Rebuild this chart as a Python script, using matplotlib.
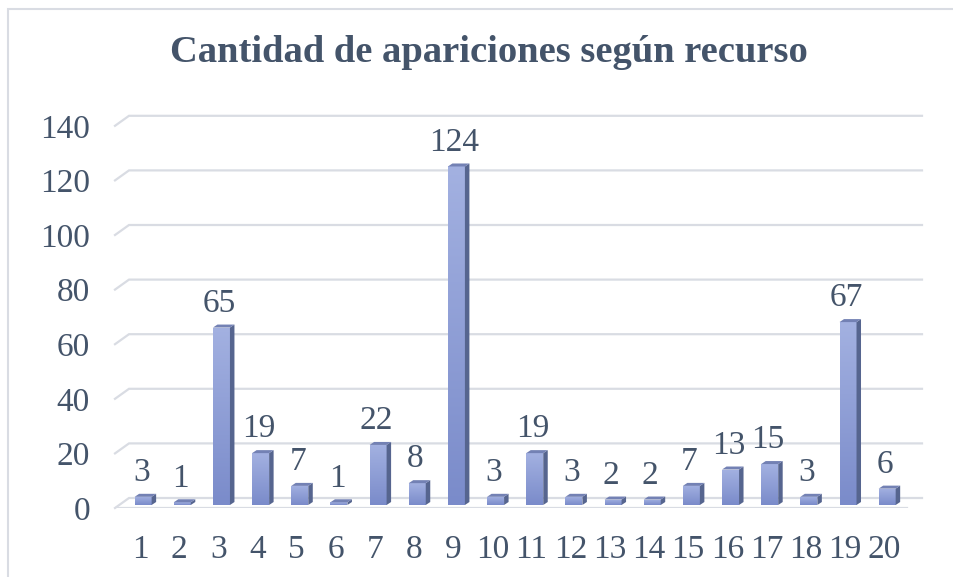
import numpy as np
import matplotlib.pyplot as plt
from matplotlib.patches import Polygon, Rectangle
from matplotlib.colors import LinearSegmentedColormap

# data
categories = [str(i) for i in range(1, 21)]
values = [3, 1, 65, 19, 7, 1, 22, 8, 124, 3, 19, 3, 2, 2, 7, 13, 15, 3, 67, 6]
y_ticks = [0, 20, 40, 60, 80, 100, 120, 140]
title = "Cantidad de apariciones según recurso"

text_col = "#44546A"
grid_col = "#D9DCE3"
plt.rcParams['font.family'] = ['Liberation Serif', 'DejaVu Serif']

fig = plt.figure(figsize=(9.54, 5.77), dpi=100)
W, H = 954, 577

# axes placed in pixels: data y=0 at bar base, front floor slightly below
px_per_unit = 2.73
left_px, right_px = 115, 925
top_px, bot_px = 116, 508
base_px = 505
ax = fig.add_axes([left_px / W, (H - bot_px) / H, (right_px - left_px) / W, (bot_px - top_px) / H])
spacing = 39.16
x0 = 1 + (left_px - 140) / spacing
x1 = 1 + (right_px - 140) / spacing
ax.set_xlim(x0, x1)
ax.set_ylim(-(bot_px - base_px) / px_per_unit, (base_px - top_px) / px_per_unit)

# 3d offsets in data units
dx_grid = 14 / spacing
dy_front = -3 / px_per_unit
dy_back = 7 / px_per_unit
x_end = 1 + (922 - 140) / spacing

for v in y_ticks:
    ax.plot([x0, x0 + dx_grid, x_end], [v + dy_front, v + dy_back, v + dy_back],
            color=grid_col, lw=1.6, solid_joinstyle='miter', zorder=1, clip_on=False)
# front floor line
ax.plot([x0, 1 + (907 - 140) / spacing], [dy_front, dy_front], color=grid_col, lw=1.6, zorder=1)

# bars with gradient front, darker side and top
x = np.arange(1, 21)
bw = 17 / spacing
side_w = 4.5 / spacing
top_h = 3 / px_per_unit
grad = np.linspace(0, 1, 256).reshape(-1, 1)
cmap = LinearSegmentedColormap.from_list("bar", ["#7A8BCA", "#A3B1E1"])
bars = ax.bar(x + 0.08, values, width=bw, color="none", zorder=3)
for b, v in zip(bars, values):
    xl = b.get_x()
    xr = xl + bw
    im = ax.imshow(grad, cmap=cmap, aspect='auto', origin='lower',
                   extent=[xl, xr, 0, v], zorder=3)
    im.set_clip_path(b)
    side = Polygon([[xr, 0], [xr + side_w, top_h], [xr + side_w, v + top_h], [xr, v]],
                   closed=True, facecolor="#56658F", edgecolor="none", zorder=3)
    ax.add_patch(side)
    top = Polygon([[xl, v], [xl + side_w, v + top_h], [xr + side_w, v + top_h], [xr, v]],
                  closed=True, facecolor="#7381B4", edgecolor="none", zorder=3)
    ax.add_patch(top)
    ax.text(xl + bw / 2 - 0.05, v + 3.2, str(v), ha='center', va='bottom',
            fontsize=24, color=text_col, zorder=4)

ax.set_xlim(x0, x1)
ax.set_xticks(x)
ax.set_xticklabels(categories)
ax.set_yticks([v + dy_front for v in y_ticks])
ax.set_yticklabels([str(v) for v in y_ticks])
ax.tick_params(axis='both', length=0, labelsize=24, colors=text_col)
ax.tick_params(axis='x', pad=19)
ax.tick_params(axis='y', pad=18)
for s in ax.spines.values():
    s.set_visible(False)
ax.patch.set_alpha(0)

fig.text(489 / W, 1 - 53 / H, title, ha='center', va='center', fontsize=27.7,
         fontweight='bold', color=text_col)

# chart border
fig.patches.append(Rectangle((8 / W, -0.01), 1.0, 1 - 9 / H + 0.01, transform=fig.transFigure,
                             fill=False, edgecolor="#D9DCE3", lw=1.5, zorder=0))

fig.savefig("out.png", dpi=100)
